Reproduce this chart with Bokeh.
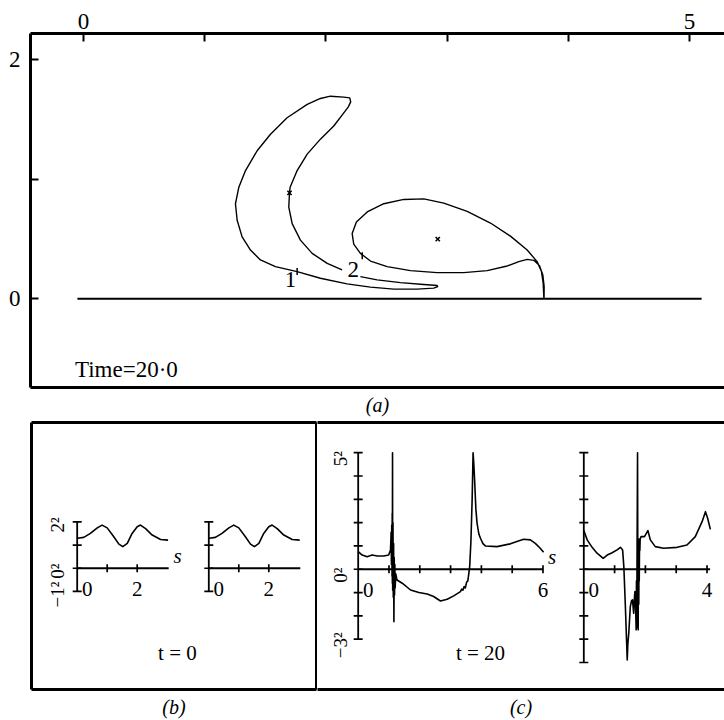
import math
from bokeh.plotting import figure
from bokeh.layouts import column, row
from bokeh.models import Range1d, LinearAxis, FixedTicker
from bokeh.core.properties import value
from bokeh.embed import file_html
from bokeh.resources import INLINE

SERIF = "Liberation Serif"

# ---------------- panel (a): vortex sheet at Time = 20.0 ----------------
a_xlabel_ticks = [0, 5]
a_xminor_ticks = [1, 2, 3, 4]
a_ylabel_ticks = [0, 2]
a_yminor_ticks = [1]

ground_x = [-0.05, 5.10]
ground_y = [0.0, 0.0]

crescent_x = [2.285, 2.423, 2.616, 2.808, 2.918, 2.923, 2.890, 2.753, 2.560, 2.368,
              2.175, 1.955, 1.763, 1.584, 1.460, 1.378, 1.309, 1.268, 1.254, 1.282,
              1.337, 1.433, 1.543, 1.680, 1.846, 1.955, 2.038, 2.148, 2.197, 2.205,
              2.184, 2.148, 2.065, 1.955, 1.846, 1.763, 1.705, 1.700, 1.694, 1.722,
              1.790, 1.887, 2.011, 2.134]
crescent_y = [0.185, 0.158, 0.135, 0.119, 0.110, 0.102, 0.089, 0.080, 0.080, 0.097,
              0.124, 0.171, 0.227, 0.268, 0.324, 0.407, 0.517, 0.656, 0.794, 0.932,
              1.071, 1.237, 1.375, 1.513, 1.624, 1.674, 1.693, 1.685, 1.679, 1.645,
              1.602, 1.554, 1.444, 1.334, 1.209, 1.071, 0.932, 0.885, 0.766, 0.628,
              0.490, 0.379, 0.296, 0.241]

loop_x = [3.800, 3.801, 3.790, 3.762, 3.716, 3.661, 3.592, 3.496, 3.331, 3.138,
          2.918, 2.698, 2.506, 2.368, 2.285, 2.230, 2.217, 2.252, 2.341, 2.478,
          2.643, 2.808, 2.973, 3.166, 3.358, 3.523, 3.661, 3.743, 3.779, 3.793, 3.799]
loop_y = [0.000, 0.102, 0.199, 0.277, 0.321, 0.329, 0.310, 0.274, 0.235, 0.218,
          0.218, 0.235, 0.268, 0.315, 0.379, 0.456, 0.545, 0.642, 0.725, 0.794,
          0.830, 0.835, 0.799, 0.730, 0.633, 0.523, 0.407, 0.310, 0.227, 0.130, 0.000]

centre_x = [1.700, 2.923]
centre_y = [0.885, 0.498]

point_x = [1.763, 2.300]
point_y = [0.227, 0.360]
point_label = ["1", "2"]
point_label_x = [1.708, 2.225]
point_label_y = [0.160, 0.242]

time_text = ["Time=20·0"]
time_x = [-0.070]
time_y = [-0.592]

# ---------------- panel (b): t = 0 ----------------
b_s = [0.00, 0.22, 0.44, 0.67, 0.83, 1.00, 1.22, 1.39, 1.52, 1.67, 1.83, 2.00, 2.11,
       2.28, 2.50, 2.78, 3.03]
b_v = [1.29, 1.33, 1.50, 1.74, 1.86, 1.74, 1.36, 1.04, 0.93, 1.07, 1.50, 1.79, 1.86,
       1.71, 1.43, 1.24, 1.21]
b_axis_s = [0, 3.05]
b_axis_v = [-1, 2]
b_xticks = [1, 2]
b_yticks = [-1, 0, 1, 2]
b_xlab_first = ["0"]
b_xlab_last = ["2"]
b_xlab_last_at = [2]
b_ylab = ["2²", "0²", "−1²"]
b_ylab_at = [2, 0, -1]

# ---------------- panel (c): t = 20 ----------------
c1_s = [0.00, 0.13, 0.29, 0.45, 0.62, 0.83, 0.99, 1.05, 1.07, 1.08, 1.09, 1.10, 1.105,
        1.11, 1.115, 1.12, 1.13, 1.14, 1.15, 1.16, 1.17, 1.18, 1.19, 1.20, 1.22, 1.26,
        1.43, 1.70, 1.97, 2.24, 2.45, 2.67, 2.89, 3.10, 3.32, 3.36, 3.40, 3.44, 3.48,
        3.52, 3.56, 3.59, 3.62, 3.66, 3.70, 3.73, 3.75, 3.78, 3.82, 3.86, 3.92, 3.97,
        4.05, 4.13, 4.51, 4.94, 5.37, 5.59, 5.75, 5.91, 6.02]
c1_v = [0.76, 0.61, 0.54, 0.61, 0.57, 0.57, 0.61, 0.83, 1.60, 0.20, 1.90, -0.30, 2.40,
        -0.60, 5.00, -0.90, 2.00, -1.20, 1.10, -2.25, 0.50, -1.10, 0.20, -0.80, -0.20, -0.46,
        -0.60, -0.89, -1.00, -1.06, -1.17, -1.36, -1.29, -1.14, -0.96, -0.85, -0.90, -0.74, -0.80,
        -0.55, -0.50, -0.20, 0.11, 1.20, 3.00, 5.00, 4.60, 3.83, 2.60, 1.97, 1.50, 1.33,
        1.10, 1.00, 0.97, 1.09, 1.29, 1.26, 1.11, 0.90, 0.73]
c1_axis_s = [0, 6]
c1_axis_v = [-3, 5]
c1_xticks = [1, 2, 3, 4, 5, 6]
c1_yticks = [-3, -2, -1, 0, 1, 2, 3, 4, 5]
c1_xlab_first = ["0"]
c1_xlab_last = ["6"]
c1_xlab_last_at = [6]
c1_ylab = ["5²", "0²", "−3²"]
c1_ylab_at = [5, 0, -3]

c2_s = [0.00, 0.11, 0.27, 0.43, 0.63, 0.76, 0.92, 1.08, 1.19, 1.26, 1.30, 1.35, 1.41,
        1.43, 1.46, 1.51, 1.55, 1.58, 1.60, 1.62, 1.64, 1.66, 1.68, 1.70, 1.71, 1.72,
        1.73, 1.745, 1.755, 1.765, 1.775, 1.785, 1.795, 1.80, 1.81, 1.82, 1.83, 1.86,
        1.97, 2.08, 2.16, 2.32, 2.59, 3.03, 3.35, 3.62, 3.84, 3.95, 4.02, 4.11]
c2_v = [1.66, 1.26, 0.94, 0.69, 0.47, 0.61, 0.71, 0.83, 0.94, 0.83, 0.11, -1.60, -3.89,
        -3.20, -2.74, -1.60, -1.35, -1.31, -1.60, -1.89, -1.30, -0.96, -1.50, -2.60, -0.50, -2.50,
        1.00, 5.00, -1.00, -2.60, 1.20, -1.50, 1.30, -0.50, 1.26, 0.80, 1.30, 1.40,
        1.40, 1.66, 1.26, 0.97, 0.90, 0.94, 1.04, 1.40, 2.04, 2.47, 2.19, 1.71]
c2_axis_s = [0, 4.1]
c2_axis_v = [-4, 5]
c2_xticks = [1, 2, 3, 4]
c2_yticks = [-4, -3, -2, -1, 0, 1, 2, 3, 4, 5]
c2_xlab_first = ["0"]
c2_xlab_last = ["4"]
c2_xlab_last_at = [4]


def frame_axis(p, side, label=None):
    ax = LinearAxis(ticker=FixedTicker(ticks=[]), axis_line_width=3, axis_line_color="black",
                    major_tick_line_color=None, minor_tick_line_color=None,
                    major_label_text_font_size="0px", major_label_standoff=0,
                    major_tick_out=0, minor_tick_out=0, major_tick_in=0, minor_tick_in=0)
    if label:
        ax.axis_label = label
        ax.axis_label_text_font = SERIF
        ax.axis_label_text_font_style = "italic"
        ax.axis_label_text_font_size = "20px"
        ax.axis_label_text_color = "black"
        ax.axis_label_standoff = 6
    p.add_layout(ax, side)
    return ax


def style_fig(p):
    p.outline_line_color = None
    p.grid.visible = False
    p.background_fill_color = "white"
    p.border_fill_color = "white"


# ---------------- figure (a) ----------------
pa = figure(width=724, height=418, x_range=Range1d(-0.437, 5.289), y_range=Range1d(-0.742, 2.217),
            x_axis_location="above", y_axis_location="left", output_backend="svg",
            toolbar_location=None, min_border_left=30, min_border_right=0,
            min_border_top=33, min_border_bottom=30)
style_fig(pa)
for ax, lab, minor in ((pa.xaxis[0], a_xlabel_ticks, a_xminor_ticks),
                       (pa.yaxis[0], a_ylabel_ticks, a_yminor_ticks)):
    ax.ticker = FixedTicker(ticks=lab, minor_ticks=minor)
    ax.axis_line_width = 3
    ax.major_tick_in = 8
    ax.major_tick_out = 0
    ax.minor_tick_in = 8
    ax.minor_tick_out = 0
    ax.major_tick_line_width = 2
    ax.minor_tick_line_width = 2
    ax.major_label_text_font = SERIF
    ax.major_label_text_font_size = "23px"
    ax.major_label_text_color = "black"
pa.xaxis[0].major_label_standoff = 5
pa.yaxis[0].major_label_standoff = 10
frame_axis(pa, "below", "(a)")

pa.line(ground_x, ground_y, line_width=2.2, color="black")
pa.line(crescent_x, crescent_y, line_width=1.4, color="black", line_join="round")
pa.line(loop_x, loop_y, line_width=1.4, color="black", line_join="round")
pa.scatter(centre_x, centre_y, marker="x", size=6, line_width=1.6, color="black")
pa.scatter(point_x, point_y, marker="dash", angle=math.pi / 2, size=7, line_width=1.5, color="black")
pa.text(point_label_x, point_label_y, text=point_label, text_font=value(SERIF),
        text_font_size="23px", text_align="center", text_baseline="middle", text_color="black")
pa.text(time_x, time_y, text=time_text, text_font=value(SERIF), text_font_size="23px",
        text_align="left", text_baseline="alphabetic", text_color="black")


def mini_plot(p, rname, s, v, axis_s, axis_v, xticks, yticks, xlab_first, xlab_last,
              xlab_last_at, ylab=None, ylab_at=None, s_label=False, ylab_dx=-19, ylab_dy=4):
    kw = dict(x_range_name=rname) if rname else {}
    p.line(axis_s, [0, 0], line_width=1.8, color="black", **kw)
    p.line([0, 0], axis_v, line_width=1.8, color="black", **kw)
    p.scatter(xticks, [0] * len(xticks), marker="dash", angle=math.pi / 2, size=8,
              line_width=1.7, color="black", **kw)
    p.scatter([0] * len(yticks), yticks, marker="dash", size=9, line_width=1.7,
              color="black", **kw)
    p.line(s, v, line_width=1.6, color="black", line_join="round", **kw)
    p.text([0], [0], text=xlab_first, text_font=value(SERIF), text_font_size="21px",
           text_align="center", text_baseline="middle", x_offset=10, y_offset=21,
           text_color="black", **kw)
    p.text(xlab_last_at, [0], text=xlab_last, text_font=value(SERIF), text_font_size="21px",
           text_align="center", text_baseline="middle", x_offset=0, y_offset=21,
           text_color="black", **kw)
    if ylab:
        p.text([0] * len(ylab), ylab_at, text=ylab, text_font=value(SERIF),
               text_font_size="19px", text_align="center", text_baseline="middle",
               angle=math.pi / 2, x_offset=ylab_dx, y_offset=ylab_dy, text_color="black", **kw)
    if s_label:
        p.text([axis_s[1]], [0], text=["s"], text_font=value(SERIF), text_font_style="italic",
               text_font_size="21px", text_align="center", text_baseline="middle",
               x_offset=9, y_offset=-12, text_color="black", **kw)


# ---------------- figure (b) ----------------
pb = figure(width=317, height=302, x_range=Range1d(-1.523, 7.977), y_range=Range1d(-5.223, 6.279),
            x_axis_location=None, y_axis_location=None, output_backend="svg",
            toolbar_location=None, min_border_left=31, min_border_right=1,
            min_border_top=4, min_border_bottom=30)
style_fig(pb)
pb.extra_x_ranges = {"b2": Range1d(-5.910, 3.590)}
frame_axis(pb, "above")
frame_axis(pb, "left")
frame_axis(pb, "right")
frame_axis(pb, "below", "(b)")
mini_plot(pb, None, b_s, b_v, b_axis_s, b_axis_v, b_xticks, b_yticks, b_xlab_first,
          b_xlab_last, b_xlab_last_at, b_ylab, b_ylab_at, s_label=True, ylab_dx=-20, ylab_dy=3)
mini_plot(pb, "b2", b_s, b_v, b_axis_s, b_axis_v, b_xticks, b_yticks, b_xlab_first,
          b_xlab_last, b_xlab_last_at)
pb.text([3.34], [-3.63], text=["t = 0"], text_font=value(SERIF), text_font_size="21px",
        text_align="center", text_baseline="middle", text_color="black")

# ---------------- figure (c) ----------------
pc = figure(width=407, height=302, x_range=Range1d(-1.321, 11.893), y_range=Range1d(-5.158, 6.295),
            x_axis_location=None, y_axis_location=None, output_backend="svg",
            toolbar_location=None, min_border_left=0, min_border_right=0,
            min_border_top=4, min_border_bottom=30)
style_fig(pc)
pc.extra_x_ranges = {"c2": Range1d(-8.646, 4.568)}
frame_axis(pc, "above")
frame_axis(pc, "below", "(c)")
mini_plot(pc, None, c1_s, c1_v, c1_axis_s, c1_axis_v, c1_xticks, c1_yticks, c1_xlab_first,
          c1_xlab_last, c1_xlab_last_at, c1_ylab, c1_ylab_at, s_label=True, ylab_dx=-18, ylab_dy=6)
mini_plot(pc, "c2", c2_s, c2_v, c2_axis_s, c2_axis_v, c2_xticks, c2_yticks, c2_xlab_first,
          c2_xlab_last, c2_xlab_last_at)
pc.text([3.97], [-3.58], text=["t = 20"], text_font=value(SERIF), text_font_size="21px",
        text_align="center", text_baseline="middle", text_color="black")

layout = column(pa, row(pb, pc, spacing=0), spacing=0)
open("out.html", "w").write(file_html(layout, INLINE))
